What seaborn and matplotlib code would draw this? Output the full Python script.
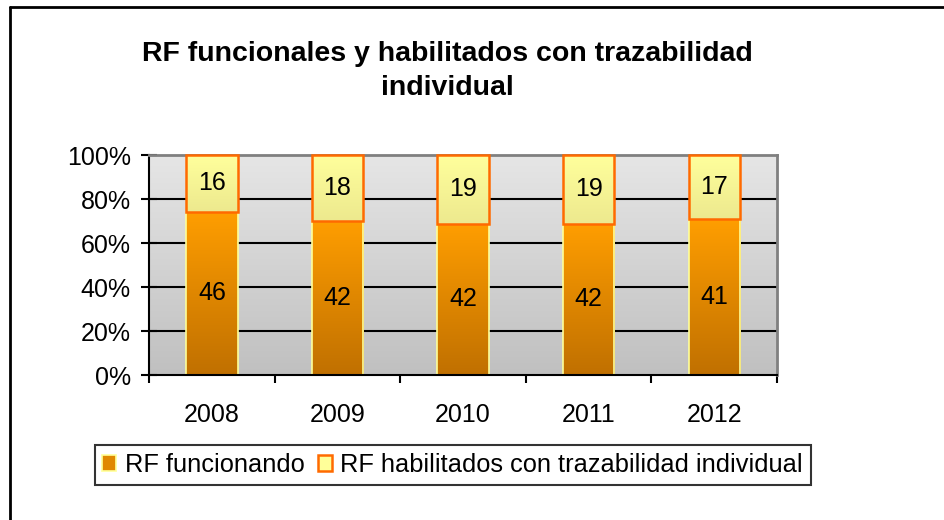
import numpy as np
import pandas as pd
import matplotlib.pyplot as plt
import seaborn as sns
from matplotlib.patches import Patch
from matplotlib.lines import Line2D
from matplotlib.colors import LinearSegmentedColormap

years = ['2008', '2009', '2010', '2011', '2012']
funcionando = [46, 42, 42, 42, 41]
habilitados = [16, 18, 19, 19, 17]

df = pd.DataFrame({'year': years, 'func': funcionando, 'hab': habilitados})
df['total'] = df['func'] + df['hab']
df['func_pct'] = df['func'] / df['total'] * 100
df['hab_pct'] = df['hab'] / df['total'] * 100

sns.set_theme(style='white')
plt.rcParams['font.family'] = ['Liberation Sans', 'DejaVu Sans']
plt.rcParams['text.color'] = 'black'
plt.rcParams['xtick.color'] = 'black'
plt.rcParams['ytick.color'] = 'black'

fig = plt.figure(figsize=(9.45, 5.2), dpi=100)
ax = fig.add_axes([0.1577, 0.2788, 0.6646, 0.4231])

n = len(years)
sns.barplot(data=df, x='year', y='func_pct', color='#FF9900', width=0.41, ax=ax)
sns.barplot(data=df, x='year', y='hab_pct', color='#FFFF99', width=0.41, ax=ax,
            bottom=df['func_pct'])
bot_bars = ax.patches[:n]
top_bars = ax.patches[n:]

cm_top = LinearSegmentedColormap.from_list('t', ['#EDE98E', '#FFFF9C'])
cm_bot = LinearSegmentedColormap.from_list('b', ['#C07000', '#FF9E00'])
grad = np.linspace(0, 1, 256).reshape(-1, 1)


def fill_gradient(p, cmap, edge, lw, z):
    x0, y0 = p.get_x(), p.get_y()
    w, h = p.get_width(), p.get_height()
    p.set_facecolor('none')
    p.set_edgecolor(edge)
    p.set_linewidth(lw)
    p.set_zorder(z + 0.5)
    p.set_clip_on(False)
    im = ax.imshow(grad, cmap=cmap, origin='lower', aspect='auto',
                   extent=[x0, x0 + w, y0, y0 + h], zorder=z)
    im.set_clip_path(p)


for p in bot_bars:
    fill_gradient(p, cm_bot, '#FFFF99', 1.2, 2)
for p in top_bars:
    fill_gradient(p, cm_top, '#FF6A00', 1.8, 3)

# plot area background gradient and gridlines
bg = LinearSegmentedColormap.from_list('bg', ['#C0C0C0', '#E6E6E6'])
ax.imshow(grad, cmap=bg, origin='lower', aspect='auto',
          extent=[-0.5, n - 0.5, 0, 100], zorder=0)
for yv in [20, 40, 60, 80]:
    ax.axhline(yv, color='black', lw=1.5, zorder=1)

ax.set_xlim(-0.5, n - 0.5)
ax.set_ylim(0, 100)

# value labels
for i in range(n):
    fp = df['func_pct'][i]
    ax.text(i, fp / 2, str(df['func'][i]), ha='center', va='center',
            fontsize=18, zorder=5)
    ax.text(i, fp + df['hab_pct'][i] / 2, str(df['hab'][i]), ha='center',
            va='center', fontsize=18, zorder=5)

ax.set_yticks([0, 20, 40, 60, 80, 100])
ax.set_yticklabels(['0%', '20%', '40%', '60%', '80%', '100%'], fontsize=18)
ax.tick_params(axis='y', direction='inout', length=12, width=1.5,
               pad=7, left=True)
ax.set_xticks(range(n))
ax.set_xticklabels(years, fontsize=18)
ax.set_xticks(np.arange(-0.5, n, 1), minor=True)
ax.tick_params(axis='x', which='major', length=0, pad=20)
ax.tick_params(axis='x', which='minor', direction='out', length=6,
               width=1.5, bottom=True)
ax.set_xlabel('')
ax.set_ylabel('')

for s in ['left', 'bottom']:
    ax.spines[s].set_color('black')
    ax.spines[s].set_linewidth(1.5)
for s in ['top', 'right']:
    ax.spines[s].set_color('#808080')
    ax.spines[s].set_linewidth(2)

fig.text(0.473, 0.864, 'RF funcionales y habilitados con trazabilidad\nindividual',
         ha='center', va='center', fontsize=20.5, fontweight='bold',
         linespacing=1.42)

handles = [Patch(facecolor='#E08800', edgecolor='#FFFF99', lw=1.2),
           Patch(facecolor='#FFFF99', edgecolor='#FF6A00', lw=1.8)]
leg = fig.legend(handles, ['RF funcionando',
                           'RF habilitados con trazabilidad individual'],
                 loc='center', bbox_to_anchor=(0.479, 0.106), ncol=2,
                 fontsize=18.3, frameon=True, fancybox=False,
                 handlelength=0.55, handleheight=0.55, handletextpad=0.35,
                 columnspacing=0.5, borderpad=0.3, borderaxespad=0)
leg.get_frame().set_edgecolor('black')
leg.get_frame().set_linewidth(1.5)

# outer chart frame (left and top edges visible)
fig.add_artist(Line2D([10 / 945, 10 / 945], [0, 1 - 7 / 520],
                      transform=fig.transFigure, color='black', lw=2))
fig.add_artist(Line2D([10 / 945, 1], [1 - 7 / 520, 1 - 7 / 520],
                      transform=fig.transFigure, color='black', lw=2))

fig.savefig('out.png', dpi=100)
